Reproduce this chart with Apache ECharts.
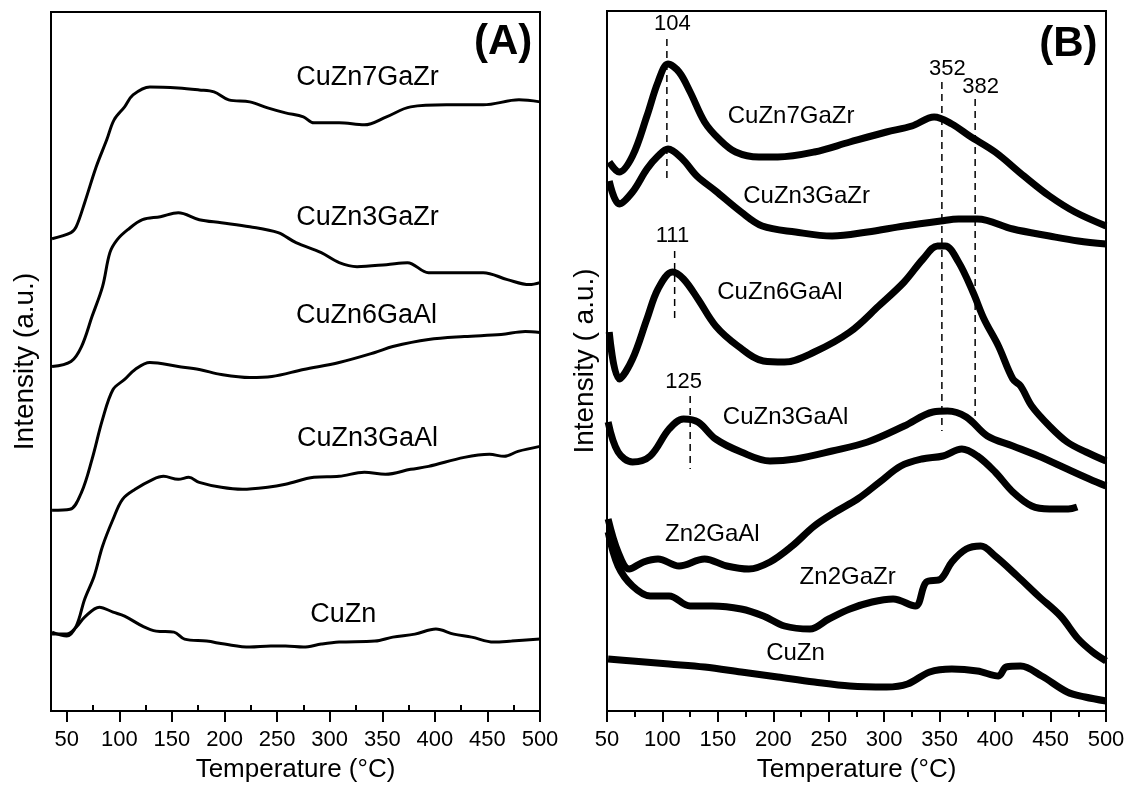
<!DOCTYPE html>
<html>
<head>
<meta charset="utf-8">
<script src="https://cdn.jsdelivr.net/npm/echarts@6/dist/echarts.min.js"></script>
<style>
  html, body { margin: 0; padding: 0; background: #fff; }
  #chart { width: 1129px; height: 788px; }
</style>
</head>
<body>
<div id="chart"></div>
<script>
// temperature ticks
const majorTicksA = [50, 100, 150, 200, 250, 300, 350, 400, 450, 500];
const minorTicksA = [75, 125, 175, 225, 275, 325, 375, 425, 475];

// panel (A) curves, [temperature, intensity a.u.]
const a_CuZn7GaZr = [[36,473],[54,479],[59,485],[67,509],[78,545],[88,572],[95,592],[105,605],[113,617],[129,625],[156,624],[176,622],[190,620],[204,612],[224,610],[241,604],[258,599],[275,595],[285,589],[309,589],[333,587],[354,595],[377,605],[411,607],[446,607],[480,612],[500,610]];
const a_CuZn3GaZr = [[36,345],[54,350],[64,365],[74,395],[84,425],[91,459],[98,472],[108,482],[122,492],[139,495],[156,499],[176,492],[197,489],[224,485],[251,479],[268,469],[292,459],[309,449],[326,445],[354,447],[374,449],[394,439],[422,439],[446,439],[469,432],[490,427],[500,429]];
const a_CuZn6GaAl = [[36,201],[53,202],[64,219],[74,252],[84,292],[94,322],[105,332],[115,342],[129,349],[156,345],[176,342],[197,337],[224,334],[245,335],[275,342],[309,349],[343,359],[360,365],[394,372],[428,375],[463,377],[486,380],[500,379]];
const a_CuZn3GaAl = [[36,79],[50,75],[59,85],[67,112],[76,135],[84,165],[94,192],[103,212],[115,222],[132,232],[142,235],[156,232],[166,234],[176,229],[197,224],[217,222],[241,224],[258,227],[285,234],[309,235],[333,239],[353,237],[377,242],[394,245],[428,254],[452,257],[466,255],[479,260],[500,265]];
const a_CuZn = [[36,77],[50,77],[59,84],[67,94],[81,104],[94,99],[105,95],[122,85],[135,80],[152,79],[162,72],[183,70],[200,67],[224,64],[244,65],[258,65],[275,64],[292,67],[309,69],[343,70],[360,74],[381,77],[401,82],[418,77],[435,74],[456,69],[473,70],[500,72]];

// panel (B) curves
const b_CuZn7GaZr = [[52,549],[61,539],[73,555],[86,595],[96,629],[105,647],[115,639],[125,619],[138,589],[151,572],[166,559],[187,554],[204,554],[237,559],[269,569],[302,579],[325,585],[345,594],[361,587],[377,575],[400,559],[426,535],[449,515],[472,499],[500,485]];
const b_CuZn3GaZr = [[52,530],[61,507],[73,519],[86,542],[96,555],[105,562],[118,552],[131,535],[148,520],[171,499],[190,485],[220,479],[253,475],[285,479],[318,485],[351,490],[367,492],[384,492],[416,482],[449,475],[475,470],[500,467]];
const b_CuZn6GaAl = [[52,379],[61,332],[73,352],[86,392],[96,422],[109,439],[119,432],[132,412],[148,385],[168,365],[191,350],[210,349],[237,359],[269,379],[295,405],[318,429],[335,452],[348,465],[355,465],[367,449],[380,419],[390,392],[403,365],[416,332],[423,325],[433,305],[449,285],[465,269],[482,259],[500,250]];
const b_CuZn3GaAl = [[51,289],[60,259],[73,249],[89,255],[106,282],[119,292],[132,289],[148,272],[171,259],[197,250],[220,252],[253,260],[285,269],[318,285],[344,299],[357,300],[374,294],[393,275],[416,265],[439,255],[465,242],[485,232],[500,225]];
const b_Zn2GaAl = [[51,192],[60,159],[70,142],[83,149],[96,152],[115,145],[138,152],[158,145],[178,142],[197,149],[217,165],[237,185],[256,199],[276,212],[296,229],[315,245],[334,252],[353,255],[370,262],[384,255],[400,239],[416,219],[433,205],[449,202],[466,202],[474,204]];
const b_Zn2GaZr = [[51,179],[60,145],[73,125],[89,115],[106,115],[125,105],[145,105],[171,102],[191,95],[210,85],[233,82],[250,92],[269,102],[289,109],[308,112],[328,105],[338,129],[351,132],[361,149],[374,162],[387,165],[400,155],[420,135],[439,115],[459,95],[475,72],[488,59],[500,50]];
const b_CuZn = [[51,52],[73,50],[106,47],[138,44],[171,39],[204,34],[237,29],[269,25],[302,24],[321,27],[341,39],[361,42],[384,40],[403,35],[410,44],[423,45],[442,35],[465,19],[481,14],[500,10]];

// curve names and where they are written [temperature, intensity]
const labelsA = [
  { name: 'CuZn7GaZr', value: [336, 634] },
  { name: 'CuZn3GaZr', value: [336, 494] },
  { name: 'CuZn6GaAl', value: [335, 396] },
  { name: 'CuZn3GaAl', value: [336, 273] },
  { name: 'CuZn', value: [313, 97] }
];
const labelsB = [
  { name: 'CuZn7GaZr', value: [216, 595] },
  { name: 'CuZn3GaZr', value: [230, 515] },
  { name: 'CuZn6GaAl', value: [206, 419] },
  { name: 'CuZn3GaAl', value: [211, 294] },
  { name: 'Zn2GaAl', value: [145, 177] },
  { name: 'Zn2GaZr', value: [267, 134] },
  { name: 'CuZn', value: [220, 58] }
];

// peak positions: [temperature, top, bottom] and their label spots
const peakLines = [[104, 672, 532], [111, 460, 389], [125, 315, 242], [352, 629, 280], [382, 612, 295]];
const peakLabels = [
  { name: '104', value: [109, 687] },
  { name: '111', value: [109, 475] },
  { name: '125', value: [119, 329] },
  { name: '352', value: [357, 642] },
  { name: '382', value: [387, 624] }
];
const panelTags = [
  { name: '(A)', value: [465, 670], panel: 0 },
  { name: '(B)', value: [466, 667], panel: 1 }
];

const FONT = 'Liberation Sans';
const chart = echarts.init(document.getElementById('chart'));

function curve(data, idx, width) {
  return {
    type: 'line', data: data, xAxisIndex: idx === 0 ? 0 : 2, yAxisIndex: idx,
    symbol: 'none', smooth: 0.35, silent: true,
    lineStyle: { color: '#000', width: width }
  };
}
function labels(data, idx, size, weight) {
  return {
    type: 'scatter', data: data, xAxisIndex: idx === 0 ? 0 : 2, yAxisIndex: idx,
    symbolSize: 0, silent: true, itemStyle: { opacity: 1 },
    label: { show: true, position: 'inside', formatter: '{b}', color: '#000',
      fontFamily: FONT, fontSize: size, fontWeight: weight }
  };
}

const xBase = {
  type: 'value', max: 500,
  axisLine: { show: true, onZero: false, lineStyle: { color: '#000', width: 2 } },
  splitLine: { show: false },
  nameLocation: 'middle', nameGap: 46,
  nameTextStyle: { color: '#000', fontFamily: FONT, fontSize: 26 }
};
const yBase = {
  type: 'value', min: 0, max: 700,
  axisLine: { show: true, lineStyle: { color: '#000', width: 2 } },
  axisTick: { show: false }, axisLabel: { show: false }, splitLine: { show: false },
  nameLocation: 'middle',
  nameTextStyle: { color: '#000', fontFamily: FONT, fontSize: 28 }
};

const series = [
  curve(a_CuZn7GaZr, 0, 3), curve(a_CuZn3GaZr, 0, 3), curve(a_CuZn6GaAl, 0, 3),
  curve(a_CuZn3GaAl, 0, 3), curve(a_CuZn, 0, 3),
  curve(b_CuZn7GaZr, 1, 7), curve(b_CuZn3GaZr, 1, 7), curve(b_CuZn6GaAl, 1, 7),
  curve(b_CuZn3GaAl, 1, 7), curve(b_Zn2GaAl, 1, 7), curve(b_Zn2GaZr, 1, 7), curve(b_CuZn, 1, 7),
  labels(labelsA, 0, 27, 'normal'),
  labels(labelsB, 1, 24, 'normal'),
  labels(peakLabels, 1, 22, 'normal'),
  labels(panelTags.filter(t => t.panel === 0), 0, 42, 'bold'),
  labels(panelTags.filter(t => t.panel === 1), 1, 42, 'bold')
];
peakLines.forEach(p => {
  series.push({
    type: 'line', data: [[p[0], p[1]], [p[0], p[2]]], xAxisIndex: 2, yAxisIndex: 1,
    symbol: 'none', silent: true,
    lineStyle: { color: '#000', width: 1.5, type: [7, 5] }
  });
});

chart.setOption({
  animation: false,
  backgroundColor: '#fff',
  grid: [
    { left: 51, top: 12, width: 489, height: 700, show: true, borderColor: '#000', borderWidth: 2 },
    { left: 607, top: 11, width: 499, height: 701, show: true, borderColor: '#000', borderWidth: 2 }
  ],
  xAxis: [
    Object.assign({}, xBase, {
      gridIndex: 0, min: 35, name: 'Temperature (°C)',
      axisTick: { show: true, customValues: majorTicksA, length: 11, lineStyle: { color: '#000', width: 2 } },
      axisLabel: { show: true, customValues: majorTicksA, margin: 18, color: '#000', fontFamily: FONT, fontSize: 22 }
    }),
    Object.assign({}, xBase, {
      gridIndex: 0, min: 35, axisLine: { show: false },
      axisTick: { show: true, customValues: minorTicksA, length: 6, lineStyle: { color: '#000', width: 2 } },
      axisLabel: { show: false }
    }),
    Object.assign({}, xBase, {
      gridIndex: 1, min: 50, interval: 50, name: 'Temperature (°C)',
      axisTick: { show: true, length: 11, lineStyle: { color: '#000', width: 2 } },
      minorTick: { show: true, splitNumber: 2, length: 6, lineStyle: { color: '#000', width: 2 } },
      axisLabel: { show: true, margin: 18, color: '#000', fontFamily: FONT, fontSize: 22 }
    })
  ],
  yAxis: [
    Object.assign({}, yBase, { gridIndex: 0, name: 'Intensity (a.u.)', nameGap: 12 }),
    Object.assign({}, yBase, { gridIndex: 1, name: 'Intensity ( a.u.)', nameGap: 8 })
  ],
  series: series
});
</script>
</body>
</html>
